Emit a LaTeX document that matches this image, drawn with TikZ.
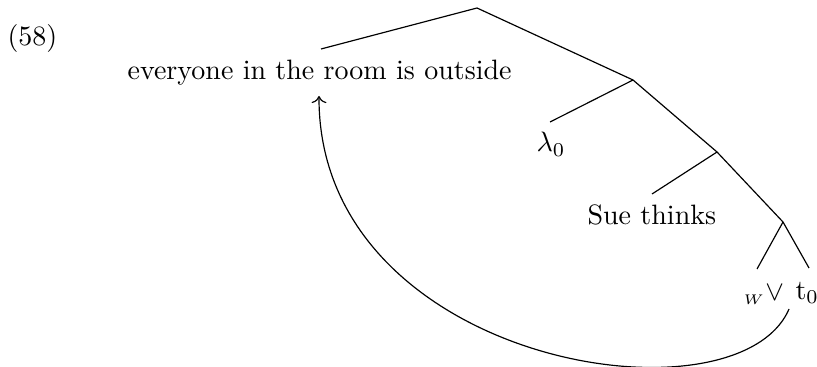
\documentclass[tikz,border=0pt]{standalone}
\usetikzlibrary{arrows.meta}
\begin{document}
\begin{tikzpicture}[x=0.357pt,y=-0.357pt,
  lbl/.style={inner sep=0pt,anchor=base west},
  br/.style={line width=0.42pt}]
\useasboundingbox (0,0) rectangle (817,366);
\node[lbl] (num) at (7,46) {(58)};
\coordinate (r) at (477,8);
\coordinate (n2) at (633,80);
\coordinate (n3) at (717,152);
\coordinate (n4) at (783,222);
\coordinate (lA) at (321,49);
\coordinate (lB) at (550,122);
\coordinate (lC) at (652,194);
\coordinate (lD) at (757,269);
\coordinate (lE) at (809,268);
\node[lbl] (every) at (127,80) {everyone in the room is outside};
\node[lbl] (lam) at (536,152) {$\lambda_0$};
\node[lbl] (sue) at (587,224) {Sue thinks};
\node[lbl] (wv) at (743,300) {${}_{\scriptscriptstyle W}{\vee}$};
\node[lbl] (t) at (795,299) {t$_0$};
\draw[br] (lA) -- (r) -- (n2) -- (n3) -- (n4) -- (lE);
\draw[br] (n2) -- (lB);
\draw[br] (n3) -- (lC);
\draw[br] (n4) -- (lD);
\coordinate (cs) at (789,309);
\coordinate (ce) at (319,96);
\draw[br,->] (cs) .. controls (737,430) and (318,365) .. (ce);
\end{tikzpicture}
\end{document}
